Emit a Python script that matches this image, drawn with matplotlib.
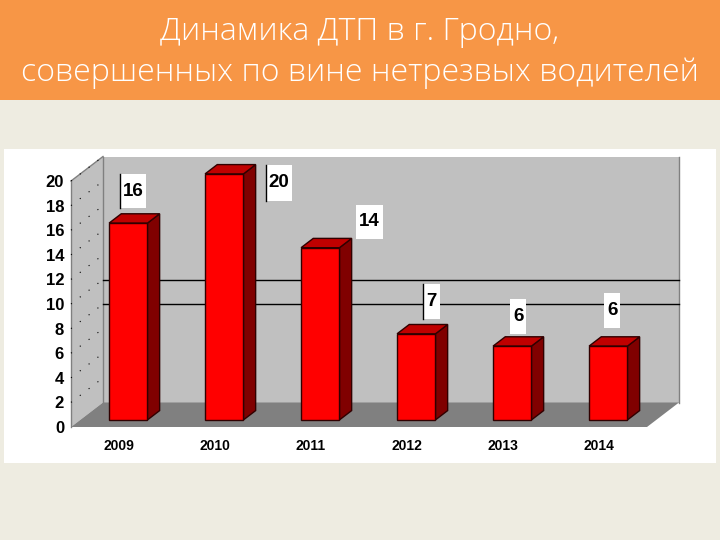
import matplotlib
matplotlib.use('Agg')
import matplotlib.pyplot as plt
from matplotlib.patches import Polygon, Rectangle
from matplotlib.transforms import Affine2D, IdentityTransform

W, H = 720, 540

# Data
years = ['2009', '2010', '2011', '2012', '2013', '2014']
accidents = [16, 20, 14, 7, 6, 6]
y_ticks = list(range(0, 21, 2))
grid_values = [8, 10]
title_lines = ['Динамика ДТП в г. Гродно,', 'совершенных по вине нетрезвых водителей']

# Label boxes, pixels from the top of each bar's front-left corner
label_boxes = [(11, -49, 26, 34), (61, -9, 26, 36), (55, -43, 27, 34),
               (26, -50, 17, 35), (17, -47, 16, 35), (15, -53, 16, 35)]
label_rules = [True, True, False, True, False, False]

DEPTH_X, DEPTH_Y = 32, 24.5
BAR_FRONT, BAR_BACK = 0.29, 0.67
BAR_WIDTH = 0.4

fig = plt.figure(figsize=(W / 100, H / 100), dpi=100, facecolor='#EEECE1')


def box(x0, y_top, w, h, **kw):
    # rectangle in image pixels, y measured from the top
    return Rectangle((x0, H - y_top - h), w, h, transform=IdentityTransform(), zorder=-1, **kw)


fig.add_artist(box(0, 0, W, 100, facecolor='#F79646', edgecolor='none'))
fig.add_artist(box(4, 149, 712, 314, facecolor='white', edgecolor='none'))

for line, y in zip(title_lines, [32, 73]):
    fig.text(0.5, 1 - y / H, line, ha='center', va='center', color='white',
             fontsize=23, family='Open Sans', fontweight='light')

ax = fig.add_axes([71 / W, 1 - 427 / H, 576 / W, 246 / H])
ax.set_xlim(-0.5, 5.5)
ax.set_ylim(0, 20)
ax.patch.set_visible(False)
for spine in ax.spines.values():
    spine.set_visible(False)

ax.set_xticks(range(len(years)), years, fontsize=10, fontweight='bold',
              family='Liberation Sans')
ax.set_yticks(y_ticks, [str(v) for v in y_ticks], fontsize=12, fontweight='bold',
              family='Liberation Sans')
ax.tick_params(axis='x', length=0, pad=8.5)
ax.tick_params(axis='y', length=0, pad=5)


def corner(x, y, depth=0.0):
    # data point pushed back into the chart by a fraction of the depth
    px, py = ax.transData.transform((x, y))
    return px + depth * DEPTH_X, py + depth * DEPTH_Y


def face(points, color, edge='none', lw=1.0, z=1):
    ax.add_patch(Polygon(points, closed=True, facecolor=color, edgecolor=edge,
                         linewidth=lw, transform=IdentityTransform(), zorder=z,
                         clip_on=False))


def segment(a, b, z=2, **kw):
    ax.plot([a[0], b[0]], [a[1], b[1]], transform=IdentityTransform(), zorder=z,
            clip_on=False, **kw)


# Walls and floor
face([corner(-0.5, 0, 1), corner(5.5, 0, 1), corner(5.5, 20, 1), corner(-0.5, 20, 1)], '#C0C0C0')
face([corner(-0.5, 0), corner(-0.5, 20), corner(-0.5, 20, 1), corner(-0.5, 0, 1)], '#C0C0C0')
face([corner(-0.5, 0), corner(5.5, 0), corner(5.5, 0, 1), corner(-0.5, 0, 1)], '#808080')

segment(corner(-0.5, 0), corner(-0.5, 20), color='#808080', lw=1)
segment(corner(-0.5, 20), corner(-0.5, 20, 1), color='#808080', lw=1)
segment(corner(-0.5, 0, 1), corner(-0.5, 20, 1), color='#808080', lw=1)
segment(corner(5.5, 0, 1), corner(5.5, 20, 1), color='#808080', lw=1)

for v in grid_values:
    segment(corner(-0.5, v, 1), corner(5.5, v, 1), color='black', lw=1)

for v in y_ticks[1:]:
    segment(corner(-0.5, v), corner(-0.5, v, 1), color='black', lw=0.8, ls=(0, (1, 9)))

# Bars: front face through ax.bar, shifted onto its own depth plane
front_shift = Affine2D().translate(BAR_FRONT * DEPTH_X, BAR_FRONT * DEPTH_Y)
ax.bar(range(len(years)), accidents, width=BAR_WIDTH, color='#FF0000', edgecolor='#300000',
       linewidth=1, transform=ax.transData + front_shift, zorder=5, clip_on=False)

for i, value in enumerate(accidents):
    x0, x1 = i - BAR_WIDTH / 2, i + BAR_WIDTH / 2
    face([corner(x1, 0, BAR_FRONT), corner(x1, value, BAR_FRONT),
          corner(x1, value, BAR_BACK), corner(x1, 0, BAR_BACK)],
         '#800000', '#300000', z=4)
    face([corner(x0, value, BAR_FRONT), corner(x1, value, BAR_FRONT),
          corner(x1, value, BAR_BACK), corner(x0, value, BAR_BACK)],
         '#C00000', '#300000', z=4)

    # value label in its white box
    px, py = corner(x0, value, BAR_FRONT)
    dx, dy, bw, bh = label_boxes[i]
    left, top = px + dx, py - dy
    ax.add_patch(Rectangle((left, top - bh), bw, bh, facecolor='white', edgecolor='none',
                           transform=IdentityTransform(), zorder=6, clip_on=False))
    if label_rules[i]:
        segment((left, top - bh), (left, top), z=7, color='black', lw=1)
    ax.text(left + bw / 2, top - bh / 2, str(value), ha='center', va='center',
            fontsize=13.5, fontweight='bold', family='Liberation Sans',
            transform=IdentityTransform(), zorder=8)

fig.savefig('out.png', dpi=100, facecolor=fig.get_facecolor())
